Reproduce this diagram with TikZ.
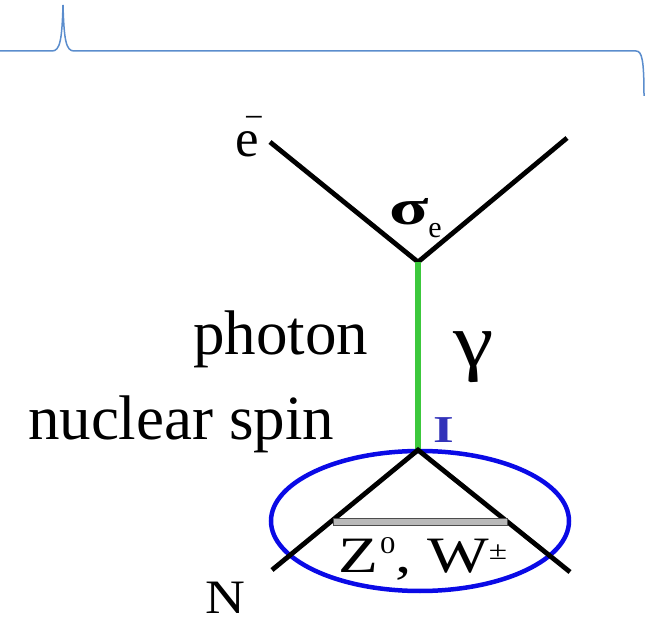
\documentclass[tikz,border=0pt]{standalone}
\usepackage{fontspec}
\setmainfont{Liberation Serif}
\usetikzlibrary{calc}
\definecolor{bracecol}{RGB}{91,141,205}
\definecolor{photongreen}{RGB}{60,200,60}
\definecolor{spinblue}{RGB}{50,50,185}
\definecolor{ringblue}{RGB}{10,10,230}
\tikzset{
  leg/.style={line width=4.8pt, black},
  prop/.style={line width=6pt, photongreen},
  lbl/.style={inner sep=0pt, outer sep=0pt},
}
\begin{document}
\begin{tikzpicture}[x=1pt,y=-1pt]
\useasboundingbox (0,0) rectangle (654,620);
% brace
\draw[bracecol, line width=1.5pt] (0,51) -- (52,51) .. controls (60,51) and (62,40) .. (63,5)
  .. controls (64,40) and (66,51) .. (74,51) -- (636,51) .. controls (642,51) and (644,60) .. (644,96);
% vertices
\coordinate (etl) at (270,142);
\coordinate (etr) at (567,138);
\coordinate (vtop) at (418,262);
\coordinate (vbot) at (418,450);
\coordinate (nbl) at (272,570);
\coordinate (nbr) at (570,572);
\coordinate (hl) at (333,522);
\coordinate (hr) at (507,522);
\coordinate (ringc) at (420,521);
% ellipse
\draw[ringblue, line width=4.5pt] (ringc) ellipse [x radius=149, y radius=70];
% lines
\draw[leg] (etl) -- (vtop) -- (etr);
\draw[prop] (vtop) -- (vbot);
\draw[leg] (nbl) -- (vbot) -- (nbr);
\fill[gray!55, draw=black!70, line width=0.8pt] ($(hl)+(0,-3.5)$) rectangle ($(hr)+(0,3.5)$);
% labels
\node[lbl, anchor=base west, font=\fontsize{63}{70}\selectfont] (photon) at (193,355) {photon};
\node[lbl, anchor=base west, font=\fontsize{63}{70}\selectfont] (nspin) at (28,440) {nuclear spin};
\node[lbl, anchor=base west, font=\fontsize{76}{80}\selectfont] (gam) at (453,367) {\scalebox{1.2}[1]{γ}};
\node[lbl, anchor=base west, font=\fontsize{53}{60}\selectfont] (elec) at (235,157) {e};
\node[lbl, font=\fontsize{34}{36}\selectfont] (eminus) at (254,129) {\smash{−}};
\node[lbl, anchor=base west, font=\fontsize{50}{56}\selectfont] (sig) at (389,225) {\scalebox{1.45}[1]{\bfseries σ}\raisebox{-13pt}{\fontsize{30}{34}\selectfont e}};
\node[lbl, anchor=base west, font=\fontsize{38}{40}\selectfont\bfseries, text=spinblue] (spin) at (433,443) {\scalebox{1.4}[1]{I}};
\node[lbl, anchor=base west, font=\fontsize{48}{50}\selectfont] (nuc) at (205,613) {\smash{\scalebox{1.15}[1]{N}}};
\node[lbl, anchor=base, font=\fontsize{51}{56}\selectfont] (zw) at (423,572) {\scalebox{1.28}[1]{Z\kern1pt\raisebox{18pt}{\fontsize{24}{28}\selectfont 0},\kern12pt W\raisebox{13pt}{\fontsize{26}{30}\selectfont ±}}};
\end{tikzpicture}
\end{document}
